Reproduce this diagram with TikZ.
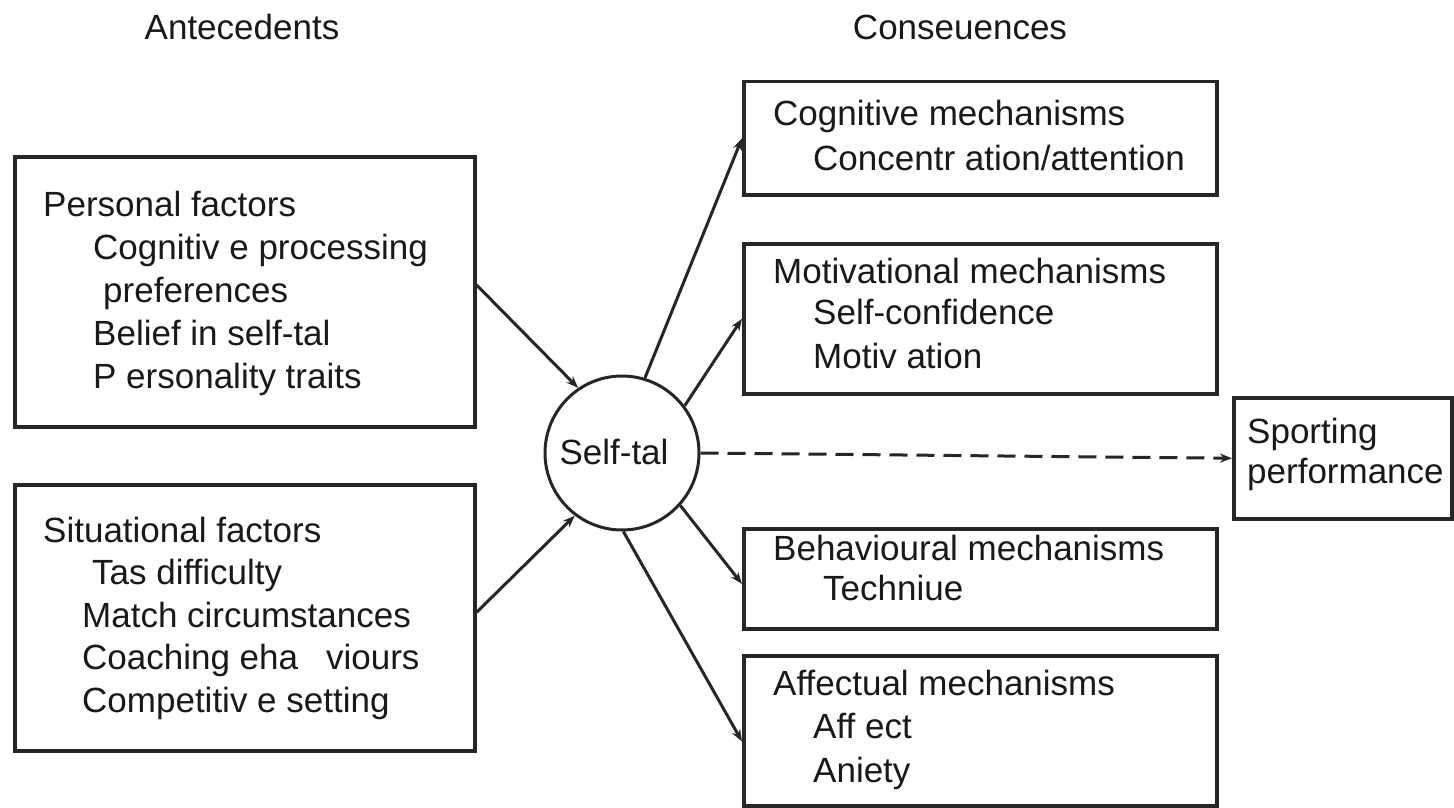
\documentclass[tikz,border=0pt]{standalone}
\usepackage{fontspec}
\setmainfont{Liberation Sans}
\usetikzlibrary{arrows.meta,calc}
\tikzset{
  box/.style={draw=black!85, line width=3.5pt, inner sep=0pt, anchor=north west},
  txt/.style={anchor=base west, inner sep=0pt, font=\fontsize{35}{43}\selectfont, text=black!90},
  ttl/.style={anchor=base, inner sep=0pt, font=\fontsize{35}{43}\selectfont, text=black!90},
  conn/.style={draw=black!85, line width=3pt, -{Stealth[length=12pt,width=9pt]}},
  dconn/.style={conn, dash pattern=on 18pt off 9pt}
}
\begin{document}
\begin{tikzpicture}[x=1pt,y=-1pt]
\useasboundingbox[fill=white] (0,0) rectangle (1454,808);
% titles
\node[ttl] (tA) at (242,40) {Antecedents};
\node[ttl] (tC) at (960,40) {Conseuences};
% boxes
\node[box, minimum width=460pt, minimum height=270pt] (pers) at (13,155) {};
\node[box, minimum width=460pt, minimum height=266pt] (sit) at (13,483) {};
\node[box, minimum width=473pt, minimum height=113pt] (cog) at (742,80) {};
\node[box, minimum width=473pt, minimum height=150pt] (mot) at (742,242) {};
\node[box, minimum width=473pt, minimum height=100pt] (beh) at (742,527) {};
\node[box, minimum width=473pt, minimum height=150pt] (aff) at (742,654) {};
\node[box, minimum width=218pt, minimum height=121pt] (spo) at (1232,396) {};
\node[draw=black!85, line width=3pt, circle, minimum size=154pt, inner sep=0pt] (self) at (622,453) {};
% texts
\node[txt] (p1) at (43,216) {Personal factors};
\node[txt] (p2) at (93,259) {Cognitiv e processing};
\node[txt] (p3) at (103,302) {preferences};
\node[txt] (p4) at (93,345) {Belief in self-tal};
\node[txt] (p5) at (93,388) {P ersonality traits};
\node[txt] (s1) at (43,542) {Situational factors};
\node[txt] (s2) at (92,584) {Tas difficulty};
\node[txt] (s3) at (82,627) {Match circumstances};
\node[txt] (s4) at (82,669) {Coaching eha\hspace{28pt}viours};
\node[txt] (s5) at (82,712) {Competitiv e setting};
\node[txt] (c1) at (773,125) {Cognitive mechanisms};
\node[txt] (c2) at (813,170) {Concentr ation/attention};
\node[txt] (m1) at (773,283) {Motivational mechanisms};
\node[txt] (m2) at (813,324) {Self-confidence};
\node[txt] (m3) at (813,368) {Motiv ation};
\node[txt] (b1) at (773,560) {Behavioural mechanisms};
\node[txt] (b2) at (823,600) {Techniue};
\node[txt] (a1) at (773,695) {Affectual mechanisms};
\node[txt] (a2) at (813,738) {Aff ect};
\node[txt] (a3) at (813,782) {Aniety};
\node[txt] (sp1) at (1247,443) {Sporting};
\node[txt] (sp2) at (1247,483) {performance};
\node[ttl] (st) at (614,464) {Self-tal};
% connectors
\coordinate (persout) at ($(pers.north east)!0.475!(pers.south east)$);
\coordinate (sitout) at ($(sit.north east)!0.48!(sit.south east)$);
\coordinate (affin) at ($(aff.north west)!0.57!(aff.south west)$);
\coordinate (behin) at ($(beh.north west)!0.55!(beh.south west)$);
\draw[conn] (persout) -- (self.124);
\draw[conn] (sitout) -- (self.233);
\draw[conn] (self.73) -- (cog.west);
\draw[conn] (self.37) -- (mot.west);
\draw[conn] (self.-42) -- (behin);
\draw[conn] (self.-89) -- (affin);
\draw[dconn] (self.east) -- (spo.west);
\end{tikzpicture}
\end{document}
